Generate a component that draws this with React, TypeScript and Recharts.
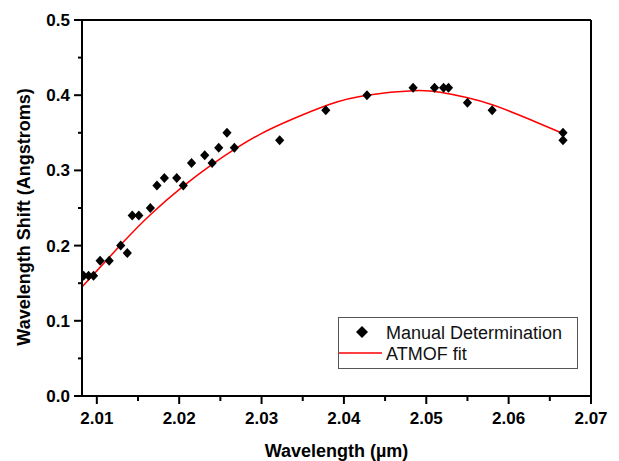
import React from "react";
import {
  ComposedChart,
  Scatter,
  Line,
  XAxis,
  YAxis,
  Legend,
  ReferenceLine,
  Label,
} from "recharts";

const FONT = "'Liberation Sans', Arial, sans-serif";

// manual determination points (wavelength in um, shift in Angstroms)
const manualX = [
  2.0084, 2.009, 2.0096, 2.0104, 2.0115, 2.0129, 2.0137, 2.0143, 2.0151, 2.0165,
  2.0173, 2.0182, 2.0197, 2.0205, 2.0215, 2.0231, 2.024, 2.0248, 2.0258, 2.0267,
  2.0322, 2.0378, 2.0428, 2.0484, 2.051, 2.0521, 2.0527, 2.055, 2.058, 2.0666,
  2.0666,
];
const manualY = [
  0.16, 0.16, 0.16, 0.18, 0.18, 0.2, 0.19, 0.24, 0.24, 0.25,
  0.28, 0.29, 0.29, 0.28, 0.31, 0.32, 0.31, 0.33, 0.35, 0.33,
  0.34, 0.38, 0.4, 0.41, 0.41, 0.41, 0.41, 0.39, 0.38, 0.35,
  0.34,
];

// ATMOF fit curve
const fitX = [
  2.0082, 2.0129, 2.0165, 2.0205, 2.024, 2.0267, 2.0298, 2.0335, 2.0383, 2.0428,
  2.0484, 2.0517, 2.0549, 2.0581, 2.0623, 2.0666,
];
const fitY = [
  0.145, 0.201, 0.241, 0.279, 0.308, 0.328, 0.348, 0.367, 0.388, 0.4,
  0.406, 0.404, 0.397, 0.387, 0.369, 0.349,
];

const xTicks = [
  2.01, 2.015, 2.02, 2.025, 2.03, 2.035, 2.04, 2.045, 2.05, 2.055, 2.06, 2.065, 2.07,
];
const yTicks = [0, 0.05, 0.1, 0.15, 0.2, 0.25, 0.3, 0.35, 0.4, 0.45, 0.5];

const manualData = manualX.map((x, i) => ({ x, y: manualY[i] }));
const fitData = fitX.map((x, i) => ({ x, y: fitY[i] }));

function XTick(props: any) {
  const { x, y, payload } = props;
  const v = payload.value as number;
  const major = Math.round(v * 1000) % 10 === 0;
  return (
    <g>
      <line x1={x} x2={x} y1={y} y2={y + (major ? 8 : 5)} stroke="#000" strokeWidth={2} />
      {major && (
        <text
          x={x}
          y={y + 28}
          textAnchor="middle"
          fontFamily={FONT}
          fontSize={17}
          fontWeight="bold"
          fill="#000"
        >
          {v.toFixed(2)}
        </text>
      )}
    </g>
  );
}

function YTick(props: any) {
  const { x, y, payload } = props;
  const v = payload.value as number;
  const major = Math.round(v * 100) % 10 === 0;
  return (
    <g>
      <line x1={x - (major ? 8 : 4)} x2={x} y1={y} y2={y} stroke="#000" strokeWidth={2} />
      {major && (
        <text
          x={x - 12}
          y={y + 6}
          textAnchor="end"
          fontFamily={FONT}
          fontSize={17}
          fontWeight="bold"
          fill="#000"
        >
          {v.toFixed(1)}
        </text>
      )}
    </g>
  );
}

function Diamond(props: any) {
  const { cx, cy } = props;
  if (cx == null || cy == null) return null;
  return (
    <polygon
      points={`${cx},${cy - 5} ${cx + 4.6},${cy} ${cx},${cy + 5} ${cx - 4.6},${cy}`}
      fill="#000"
    />
  );
}

function LegendBox(props: any) {
  // diamond entry first, like the original
  const payload = [...(props.payload || [])].sort(
    (a: any, b: any) => (a.type === "line" ? 1 : 0) - (b.type === "line" ? 1 : 0)
  );
  return (
    <svg width={240} height={52} style={{ display: "block" }}>
      <rect x={0.5} y={0.5} width={239} height={51} fill="#fff" stroke="#555" strokeWidth={1} />
      {payload.map((entry: any, i: number) => {
        const cy = i === 0 ? 15 : 36;
        return (
          <g key={entry.value}>
            {entry.type === "line" ? (
              <line x1={1} x2={44} y1={cy} y2={cy} stroke={entry.color} strokeWidth={1.5} />
            ) : (
              <polygon
                points={`24,${cy - 6} 30,${cy} 24,${cy + 6} 18,${cy}`}
                fill="#000"
              />
            )}
            <text x={48} y={cy + 6.5} fontFamily={FONT} fontSize={18} fill="#111">
              {entry.value}
            </text>
          </g>
        );
      })}
    </svg>
  );
}

export default function App() {
  return (
    <div style={{ position: "absolute", left: 0, top: 0, width: 619, height: 461, background: "#fff" }}>
      <ComposedChart width={619} height={461} margin={{ top: 20, right: 28, bottom: 0, left: 0 }}>
        <XAxis
          dataKey="x"
          type="number"
          domain={[2.0082, 2.07]}
          ticks={xTicks}
          interval={0}
          allowDataOverflow
          height={65}
          tickSize={0}
          tickMargin={0}
          tickLine={false}
          axisLine={{ stroke: "#000", strokeWidth: 2 }}
          tick={<XTick />}
        >
          <Label
            content={(p: any) => {
              const vb = p.viewBox;
              return (
                <text
                  x={vb.x + vb.width / 2}
                  y={457}
                  textAnchor="middle"
                  fontFamily={FONT}
                  fontSize={18}
                  fontWeight="bold"
                  fill="#000"
                >
                  Wavelength (µm)
                </text>
              );
            }}
          />
        </XAxis>
        <YAxis
          type="number"
          domain={[0, 0.5]}
          ticks={yTicks}
          interval={0}
          width={82}
          tickSize={0}
          tickMargin={0}
          tickLine={false}
          axisLine={{ stroke: "#000", strokeWidth: 2 }}
          tick={<YTick />}
        >
          <Label
            content={() => (
              <text
                x={30}
                y={217}
                transform="rotate(-90 30 217)"
                textAnchor="middle"
                fontFamily={FONT}
                fontSize={18}
                fontWeight="bold"
                fill="#000"
              >
                Wavelength Shift (Angstroms)
              </text>
            )}
          />
        </YAxis>
        <ReferenceLine y={0.5} stroke="#000" strokeWidth={2} />
        <ReferenceLine x={2.07} stroke="#000" strokeWidth={2} />
        <Scatter
          name="Manual Determination"
          data={manualData}
          dataKey="y"
          fill="#000"
          legendType="diamond"
          shape={<Diamond />}
          isAnimationActive={false}
        />
        <Line
          name="ATMOF fit"
          data={fitData}
          dataKey="y"
          type="natural"
          stroke="#ff0000"
          strokeWidth={1.5}
          dot={false}
          activeDot={false}
          legendType="line"
          isAnimationActive={false}
        />
        <Legend
          layout="horizontal"
          verticalAlign="middle"
          align="center"
          content={<LegendBox />}
          wrapperStyle={{ left: 338, top: 317, width: 240, height: 52 }}
        />
      </ComposedChart>
    </div>
  );
}
